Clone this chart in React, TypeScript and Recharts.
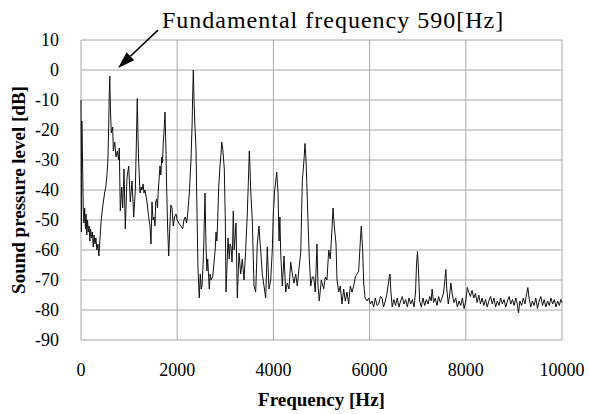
import React from 'react';
import { LineChart, Line, XAxis, YAxis, CartesianGrid, ReferenceLine } from 'recharts';

// [frequency Hz, level dB]
const BAND_0_1K: [number, number][] = [
  [0, -10], [8, -54], [18, -17], [32, -30], [48, -47], [62, -51], [76, -46], [92, -53],
  [106, -48], [120, -55], [136, -50], [152, -54], [168, -52], [184, -57], [200, -53],
  [218, -56], [236, -54], [254, -59], [272, -55], [290, -58], [310, -56], [330, -60],
  [352, -58], [372, -62], [392, -57], [415, -51], [440, -47], [465, -44], [490, -41],
  [515, -39], [540, -35], [560, -30], [575, -19], [588, -8], [598, -2], [610, -12],
  [630, -21], [659, -19], [672, -27], [701, -24], [728, -29], [755, -27], [784, -30],
  [796, -26], [817, -47], [846, -39], [867, -46], [894, -33], [921, -53], [956, -36],
  [992, -32],
];

const BAND_1K_2K: [number, number][] = [
  [1025, -44], [1060, -37], [1096, -49], [1129, -40], [1150, -25], [1170, -9.5],
  [1182, -20], [1198, -30], [1227, -41], [1250, -39], [1268, -40], [1290, -38],
  [1310, -41], [1330, -40], [1351, -42], [1372, -44], [1393, -47], [1415, -50],
  [1435, -52], [1455, -58], [1476, -44], [1497, -50], [1518, -49], [1538, -52],
  [1553, -44], [1574, -43], [1590, -46], [1607, -40], [1625, -36], [1642, -32],
  [1660, -35], [1678, -29], [1695, -31], [1711, -24], [1728, -20], [1746, -14],
  [1760, -22], [1782, -40], [1800, -52], [1823, -62], [1850, -51], [1868, -45],
  [1892, -46], [1919, -52], [1945, -49], [1975, -48], [2000, -50],
];

const BAND_2K_3K: [number, number][] = [
  [2031, -51], [2079, -52], [2114, -53], [2140, -50], [2168, -49], [2195, -51],
  [2218, -48], [2252, -41], [2287, -30], [2310, -18], [2322, -8], [2335, 0],
  [2350, -10], [2364, -17], [2391, -26], [2405, -41], [2432, -66], [2459, -76],
  [2480, -68], [2498, -73], [2516, -72], [2535, -66], [2551, -59], [2578, -41],
  [2599, -59], [2617, -67], [2634, -63], [2667, -73], [2685, -68], [2703, -70],
  [2738, -69], [2755, -66], [2771, -63], [2790, -60], [2807, -54], [2825, -57],
  [2842, -50], [2863, -39], [2890, -32], [2910, -28], [2925, -24], [2946, -26],
  [2965, -30], [2979, -33], [3000, -50],
];

const BAND_3K_4K: [number, number][] = [
  [3015, -74], [3056, -56], [3083, -63], [3098, -58], [3119, -59], [3140, -64],
  [3154, -57], [3166, -47], [3185, -60], [3202, -56], [3223, -51], [3250, -76],
  [3285, -61], [3320, -68], [3353, -63], [3389, -70], [3424, -60], [3457, -48],
  [3486, -34], [3499, -27], [3515, -33], [3528, -40], [3561, -50], [3597, -72],
  [3632, -74], [3665, -58], [3701, -52], [3720, -57], [3736, -60], [3769, -68],
  [3805, -72], [3840, -76], [3873, -59], [3908, -73], [3944, -70], [3977, -60],
  [3998, -48],
];

const BAND_4K_5K: [number, number][] = [
  [4027, -40], [4050, -37], [4069, -34], [4096, -41], [4117, -57], [4135, -49],
  [4152, -61], [4185, -72], [4221, -62], [4256, -74], [4289, -71], [4324, -73],
  [4360, -64], [4393, -68], [4428, -71], [4464, -68], [4497, -72], [4532, -66],
  [4568, -61], [4601, -37], [4636, -30], [4657, -24.5], [4675, -29], [4692, -36],
  [4719, -50], [4747, -63], [4776, -72], [4809, -69], [4838, -69], [4871, -74],
  [4906, -58], [4927, -72], [4954, -77], [4996, -70],
];

const BAND_5K_6K: [number, number][] = [
  [5046, -73], [5079, -69], [5114, -70], [5150, -60], [5183, -63], [5218, -53],
  [5239, -46], [5266, -52], [5302, -58], [5322, -70], [5358, -74], [5391, -72],
  [5426, -78], [5461, -73], [5495, -77], [5530, -74], [5565, -78], [5599, -72],
  [5634, -74], [5669, -72], [5703, -69], [5738, -68], [5773, -67], [5807, -57],
  [5827, -52], [5856, -60], [5877, -71], [5906, -76], [5946, -77], [5981, -76],
];

const BAND_6K_8K: [number, number][] = [
  [6015, -78], [6050, -77], [6085, -79], [6119, -76], [6155, -78.5], [6189, -78],
  [6225, -75.5], [6258, -76], [6290, -79], [6327, -77], [6355, -75], [6383, -72],
  [6410, -69], [6425, -68], [6439, -73], [6470, -79], [6505, -76.5], [6540, -78.5],
  [6575, -76], [6610, -79], [6645, -77], [6680, -75.5], [6715, -78], [6750, -76.5],
  [6785, -79], [6820, -76], [6855, -78], [6890, -76.5], [6925, -79], [6955, -74],
  [6975, -65], [6995, -60.5], [7015, -66], [7040, -77], [7075, -79], [7110, -76],
  [7145, -78.5], [7180, -76.5], [7215, -78], [7250, -75.5], [7280, -77], [7300, -73],
  [7330, -77.5], [7365, -76], [7400, -78.5], [7435, -75.5], [7470, -77.5], [7505, -76],
  [7540, -74], [7565, -70], [7585, -66.5], [7605, -73], [7635, -78], [7665, -75],
  [7690, -71], [7720, -75], [7755, -77.5], [7790, -76], [7825, -79], [7860, -77],
  [7895, -78.5], [7930, -76], [7965, -79.5], [8000, -77],
];

const BAND_8K_10K: [number, number][] = [
  [8030, -72.5], [8060, -74], [8095, -75.5], [8130, -73.5], [8165, -76], [8200, -74.5],
  [8235, -77.5], [8270, -75], [8305, -78], [8340, -76], [8375, -78.5], [8410, -76.5],
  [8445, -79], [8480, -77], [8515, -75.5], [8550, -78], [8585, -76], [8620, -79],
  [8655, -77], [8690, -78.5], [8725, -76], [8760, -78], [8795, -76.5], [8830, -79],
  [8865, -77], [8900, -75.5], [8935, -78], [8970, -76.5], [9005, -78.5], [9040, -76],
  [9070, -78], [9095, -81], [9125, -77], [9160, -78.5], [9195, -76], [9230, -78],
  [9260, -75], [9290, -72.5], [9315, -76], [9350, -79], [9385, -77], [9420, -78.5],
  [9455, -76], [9490, -79.5], [9525, -77], [9560, -75.5], [9595, -78.5], [9630, -76.5],
  [9665, -79], [9700, -77], [9735, -78.5], [9770, -76], [9805, -78], [9840, -76.5],
  [9875, -79], [9910, -77], [9945, -78.5], [9975, -76.5], [10000, -77.5],
];

const X_TICKS = [0, 2000, 4000, 6000, 8000, 10000];
const Y_TICKS = [-90, -80, -70, -60, -50, -40, -30, -20, -10, 0, 10];

const ANNOTATION = 'Fundamental frequency 590[Hz]';
// arrow from the label down to the fundamental peak, in data units
const ARROW_TAIL = { hz: 1600, db: 13.3 };
const ARROW_TIP = { hz: 770, db: 0.7 };

const FONT = "'Liberation Serif', 'Times New Roman', serif";

const spectrum = [
  ...BAND_0_1K, ...BAND_1K_2K, ...BAND_2K_3K, ...BAND_3K_4K,
  ...BAND_4K_5K, ...BAND_5K_6K, ...BAND_6K_8K, ...BAND_8K_10K,
].map(([hz, db]) => ({ hz, db }));

const Arrow = (props: any) => {
  const { x1, y1, x2, y2 } = props;
  const ang = Math.atan2(y2 - y1, x2 - x1);
  const len = 17;
  const half = 5.5;
  const bx = x2 - len * Math.cos(ang);
  const by = y2 - len * Math.sin(ang);
  const px = -Math.sin(ang) * half;
  const py = Math.cos(ang) * half;
  return (
    <g>
      <line x1={x1} y1={y1} x2={bx} y2={by} stroke="#000" strokeWidth={1.6} />
      <polygon points={`${x2},${y2} ${bx + px},${by + py} ${bx - px},${by - py}`} fill="#000" />
      <text x={x1 + 4} y={y1 - 2} fontSize={24} fontFamily={FONT} fill="#000" letterSpacing={1}>
        {ANNOTATION}
      </text>
    </g>
  );
};

export default function App() {
  return (
    <div style={{ position: 'absolute', left: 0, top: 0, background: '#fff' }}>
      <LineChart width={589} height={414} data={spectrum} margin={{ top: 40, right: 27, bottom: 0, left: 0 }}>
        <CartesianGrid stroke="#a8a8a8" strokeWidth={1} />
        <XAxis
          type="number"
          dataKey="hz"
          domain={[0, 10000]}
          ticks={X_TICKS}
          axisLine={false}
          tickLine={false}
          tickSize={0}
          tickMargin={23}
          height={74}
          tick={{ fontSize: 18, fill: '#000', fontFamily: FONT }}
          label={{ value: 'Frequency [Hz]', position: 'insideBottom', offset: 8, fontSize: 19, fontWeight: 'bold', fill: '#000', fontFamily: FONT }}
        />
        <YAxis
          type="number"
          domain={[-90, 10]}
          ticks={Y_TICKS}
          axisLine={false}
          tickLine={false}
          tickSize={0}
          tickMargin={22}
          width={81}
          tick={{ fontSize: 18, fill: '#000', fontFamily: FONT }}
          label={{ value: 'Sound pressure level [dB]', angle: -90, position: 'insideLeft', offset: 18, fontSize: 19, fontWeight: 'bold', fill: '#000', fontFamily: FONT, style: { textAnchor: 'middle' } }}
        />
        <Line type="linear" dataKey="db" stroke="#111" strokeWidth={1} dot={false} isAnimationActive={false} />
        <ReferenceLine
          segment={[{ x: ARROW_TAIL.hz, y: ARROW_TAIL.db }, { x: ARROW_TIP.hz, y: ARROW_TIP.db }]}
          ifOverflow="visible"
          shape={Arrow}
        />
      </LineChart>
    </div>
  );
}
